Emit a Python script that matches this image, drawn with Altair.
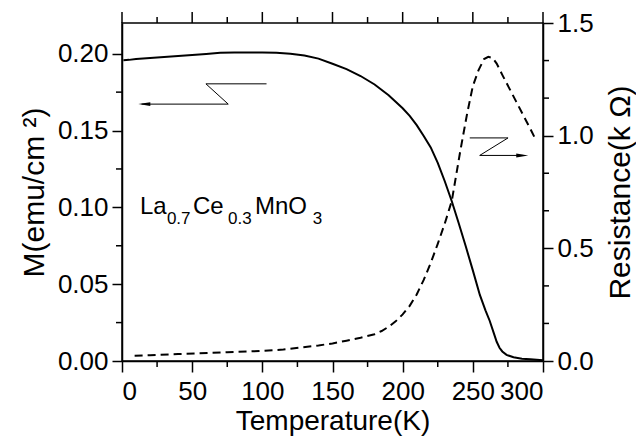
import altair as alt
import pandas as pd

# ---- data ----
T_M = [1, 5, 10, 20, 30, 40, 50, 60, 70, 80, 90, 100, 110, 120, 130, 140, 150, 160, 170, 180,
       190, 200, 205, 210, 215, 220, 225, 230, 235, 240, 245, 250, 255, 259, 262, 265, 267, 269,
       271, 274, 279, 285, 291, 300]
M_VAL = [0.1958, 0.1960, 0.1965, 0.1972, 0.1978, 0.1985, 0.1992, 0.1998, 0.2006, 0.2008, 0.2008,
         0.2008, 0.2006, 0.2000, 0.1988, 0.1968, 0.1935, 0.1900, 0.1855, 0.1800, 0.1730, 0.1645,
         0.1595, 0.1535, 0.1465, 0.1390, 0.1290, 0.1170, 0.1040, 0.0895, 0.0745, 0.0590, 0.0430,
         0.0330, 0.0262, 0.0180, 0.0125, 0.0086, 0.0062, 0.0040, 0.0024, 0.0015, 0.0011, 0.0005]

T_R = [9, 20, 40, 55, 75, 98, 115, 127, 140, 150, 160, 170, 180, 185, 190, 195, 200, 205, 210,
       215, 220, 225, 230, 235, 241, 246, 250, 254, 258, 261, 264, 267, 271, 276, 281, 286, 291,
       295]
R_VAL = [0.0235, 0.026, 0.031, 0.034, 0.039, 0.044, 0.051, 0.060, 0.069, 0.078, 0.090, 0.103,
         0.119, 0.133, 0.152, 0.176, 0.207, 0.245, 0.295, 0.36, 0.435, 0.52, 0.61, 0.71, 0.93,
         1.10, 1.22, 1.29, 1.34, 1.35, 1.345, 1.32, 1.27, 1.21, 1.15, 1.09, 1.03, 0.98]

X_MAJOR = [0, 50, 100, 150, 200, 250, 300]
X_MINOR = [25, 75, 125, 175, 225, 275]
M_MAJOR = [0.0, 0.05, 0.10, 0.15, 0.20]
M_MINOR = [0.025, 0.075, 0.125, 0.175]
R_MAJOR = [0.0, 0.5, 1.0, 1.5]
R_MINOR = [0.1667, 0.3333, 0.6667, 0.8333, 1.1667, 1.3333]

# annotation arrows (T, M) and formula pieces
ARROW_L_T = [103.0, 59.8, 75.7, 14.0]
ARROW_L_M = [0.1804, 0.1804, 0.1672, 0.1672]
ARROW_R_T = [247.8, 275.1, 254.9, 286.0]
ARROW_R_M = [0.1452, 0.1452, 0.1338, 0.1338]
HEAD_T = [15.9, 285.2]
HEAD_M = [0.1672, 0.1338]
HEAD_DIR = ["left", "right"]

MAIN_TXT = ["La", "Ce", "MnO"]
MAIN_T = [12.8, 50.6, 94.7]
SUB_TXT = ["0.7", "0.3", "3"]
SUB_T = [32.0, 75.5, 136.0]
MAIN_M = 0.0958
SUB_M = 0.0893

W, H = 421, 338
FONT = "Liberation Sans"

xs = alt.Scale(domain=[0, 300], nice=False, zero=False)
ms = alt.Scale(domain=[0, 0.22], nice=False)
rs = alt.Scale(domain=[0, 1.5], nice=False)

AX_X = alt.Axis(values=X_MAJOR, title="Temperature(K)", tickSize=11, labelPadding=6,
                titleFontSize=28, titleBaseline="alphabetic", titleY=68, format="d",
                orient="bottom")
AX_M = alt.Axis(values=M_MAJOR, format=".2f", title="M(emu/cm ²)", orient="left",
                tickSize=10, labelPadding=4, titlePadding=8)
AX_R = alt.Axis(values=R_MAJOR, format=".1f", title="Resistance(k Ω)", orient="right",
                tickSize=10, labelPadding=4, titlePadding=12, titleAngle=270, titleBaseline="top")


def X():
    return alt.X("t:Q", scale=xs, axis=AX_X)


def YM(f="m"):
    return alt.Y(f + ":Q", scale=ms, axis=AX_M)


def YR(f="r"):
    return alt.Y(f + ":Q", scale=rs, axis=AX_R)


m_df = pd.DataFrame({"t": T_M, "m": M_VAL})
r_df = pd.DataFrame({"t": T_R, "r": R_VAL})

m_line = alt.Chart(m_df).mark_line(color="black", strokeWidth=2).encode(x=X(), y=YM())

y_minor_left = alt.Chart(pd.DataFrame({"m": M_MINOR})).mark_rule(color="black", strokeWidth=1.5).encode(
    y=YM(), x=alt.value(-6), x2=alt.value(0))

x_minor_bottom = alt.Chart(pd.DataFrame({"t": X_MINOR})).mark_rule(color="black", strokeWidth=1.5).encode(
    x=X(), y=alt.value(H), y2=alt.value(H + 6))

x_major_top = alt.Chart(pd.DataFrame({"t": X_MAJOR})).mark_rule(color="black", strokeWidth=1.5).encode(
    x=X(), y=alt.value(-11), y2=alt.value(0))

x_minor_top = alt.Chart(pd.DataFrame({"t": X_MINOR})).mark_rule(color="black", strokeWidth=1.5).encode(
    x=X(), y=alt.value(-6), y2=alt.value(0))

arrow_df = pd.DataFrame({
    "t": ARROW_L_T + ARROW_R_T,
    "m": ARROW_L_M + ARROW_R_M,
    "g": ["L"] * 4 + ["R"] * 4,
    "o": [0, 1, 2, 3] * 2,
})
arrows = alt.Chart(arrow_df).mark_line(color="black", strokeWidth=1).encode(
    x=X(), y=YM(), detail="g:N", order="o:Q")

head_df = pd.DataFrame({"t": HEAD_T, "m": HEAD_M, "d": HEAD_DIR})
head_l = alt.Chart(head_df[head_df.d == "left"]).mark_point(
    shape="M-1,0L1,-0.33L1,0.33Z", filled=True, size=144, color="black", opacity=1).encode(
    x=X(), y=YM())
head_r = alt.Chart(head_df[head_df.d == "right"]).mark_point(
    shape="M1,0L-1,-0.33L-1,0.33Z", filled=True, size=144, color="black", opacity=1).encode(
    x=X(), y=YM())

main_df = pd.DataFrame({"s": MAIN_TXT, "t": MAIN_T, "m": [MAIN_M] * 3})
sub_df = pd.DataFrame({"s": SUB_TXT, "t": SUB_T, "m": [SUB_M] * 3})
main_txt = alt.Chart(main_df).mark_text(align="left", baseline="alphabetic", font=FONT,
                                        fontSize=24, color="black").encode(
    x=X(), y=YM(), text="s:N")
sub_txt = alt.Chart(sub_df).mark_text(align="left", baseline="alphabetic", font=FONT,
                                      fontSize=17, color="black").encode(
    x=X(), y=YM(), text="s:N")

left = alt.layer(m_line, y_minor_left, x_minor_bottom, x_major_top, x_minor_top,
                 arrows, head_l, head_r, main_txt, sub_txt)

r_line = alt.Chart(r_df).mark_line(color="black", strokeWidth=2, strokeDash=[8, 5]).encode(
    x=X(), y=YR())
y_minor_right = alt.Chart(pd.DataFrame({"r": R_MINOR})).mark_rule(color="black", strokeWidth=1.5).encode(
    y=YR(), x=alt.value(W), x2=alt.value(W + 6))

right = alt.layer(r_line, y_minor_right)

chart = alt.layer(left, right).resolve_scale(y="independent").properties(
    width=W, height=H,
    autosize=alt.AutoSizeParams(type="none"),
    padding={"left": 114, "top": 15, "right": 93, "bottom": 76},
).configure_view(stroke="black", strokeWidth=1.5).configure_axis(
    grid=False, domainColor="black", domainWidth=1.5, tickColor="black", tickWidth=1.5,
    labelFont=FONT, labelFontSize=26, labelColor="black",
    titleFont=FONT, titleFontSize=30, titleColor="black", titleFontWeight="normal",
)

chart.save("out.html", embed_options={"renderer": "svg", "actions": False})
